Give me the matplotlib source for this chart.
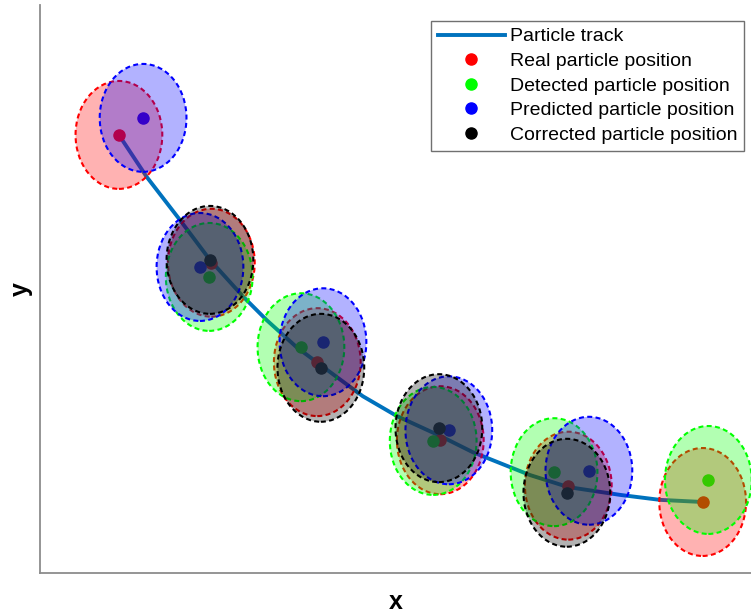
import matplotlib
matplotlib.use("Agg")
import matplotlib.pyplot as plt
from matplotlib.colors import to_rgb
from matplotlib.patches import Ellipse
from matplotlib.lines import Line2D

plt.rcParams["font.family"] = ["Liberation Sans", "DejaVu Sans"]

# particle track
track_x = [1.11, 1.50, 1.97, 2.39, 2.86, 3.19, 3.61, 4.08, 4.54, 5.02,
           5.63, 6.09, 6.89, 7.43, 8.16, 8.72, 9.32]
track_y = [6.17, 5.58, 4.97, 4.41, 3.89, 3.56, 3.18, 2.83, 2.49, 2.21,
           1.93, 1.70, 1.38, 1.21, 1.10, 1.03, 1.00]

real_x = [1.11, 2.41, 3.90, 5.63, 7.43, 9.32]
real_y = [6.17, 4.37, 2.97, 1.87, 1.23, 1.00]

detected_x = [2.38, 3.67, 5.53, 7.23, 9.40]
detected_y = [4.17, 3.18, 1.86, 1.42, 1.31]

predicted_x = [1.45, 2.25, 3.98, 5.75, 7.72]
predicted_y = [6.41, 4.31, 3.25, 2.01, 1.44]

corrected_x = [2.39, 3.95, 5.61, 7.41]
corrected_y = [4.41, 2.89, 2.04, 1.13]

ell_w, ell_h = 1.22, 1.52

series = [
    ("Real particle position", real_x, real_y, "#ff0000"),
    ("Detected particle position", detected_x, detected_y, "#00ff00"),
    ("Predicted particle position", predicted_x, predicted_y, "#0000ff"),
    ("Corrected particle position", corrected_x, corrected_y, "#000000"),
]

fig = plt.figure(figsize=(7.51, 6.13), dpi=100)
ax = fig.add_axes([40 / 751, 40 / 613, 711 / 751, 568 / 613])

ax.plot(track_x, track_y, color="#0072BD", lw=2.8, zorder=1)

for name, xs, ys, col in series:
    ax.plot(xs, ys, "o", color=col, ms=8, zorder=2)

# uncertainty ellipses drawn over the points
for i, (name, xs, ys, col) in enumerate(series):
    for x, y in zip(xs, ys):
        e = Ellipse((x, y), ell_w, ell_h, facecolor=(*to_rgb(col), 0.3),
                    edgecolor=col, lw=1.5, ls=(0, (2.4, 1.6)), zorder=3 + i)
        ax.add_patch(e)

ax.set_xlim(0, 10)
ax.set_ylim(0, 8)
ax.set_xticks([])
ax.set_yticks([])
for s in ["top", "right"]:
    ax.spines[s].set_visible(False)
for s in ["left", "bottom"]:
    ax.spines[s].set_color("#8c8c8c")
    ax.spines[s].set_linewidth(1.3)

ax.set_xlabel("x", fontsize=18, fontweight="bold", labelpad=12)
ax.set_ylabel("y", fontsize=18, fontweight="bold", labelpad=5.5)

handles = [Line2D([], [], color="#0072BD", lw=2.8)]
labels = ["Particle track"]
for name, xs, ys, col in series:
    handles.append(Line2D([], [], ls="none", marker="o", color=col, ms=8))
    labels.append(name)
leg = ax.legend(handles, labels, loc="upper right",
                bbox_to_anchor=(0.990, 0.972), borderaxespad=0,
                fontsize=14, fancybox=False, framealpha=1,
                edgecolor="#707070", handlelength=3.45, handletextpad=0.25,
                labelspacing=0.36, borderpad=0.35)
leg.get_frame().set_linewidth(1.0)
leg.set_zorder(20)

fig.savefig("out.png", dpi=100)
